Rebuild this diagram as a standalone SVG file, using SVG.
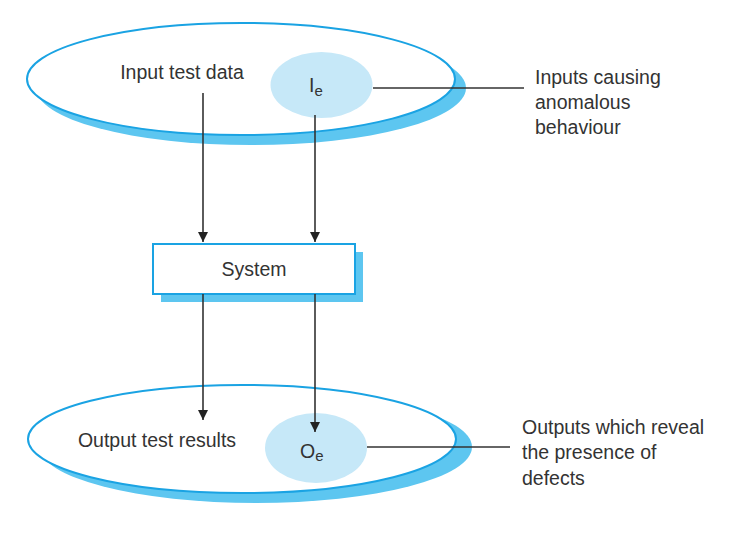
<svg xmlns="http://www.w3.org/2000/svg" width="739" height="539" viewBox="0 0 739 539">
<style>
.shadow{fill:#5dc6f0;stroke:none}
.outer{fill:#fff;stroke:#1aa3e3;stroke-width:2}
.inner{fill:#c6e8f8;stroke:none}
.t{font-family:"Liberation Sans",Arial,sans-serif;font-size:19.5px;fill:#333}
.sub{font-size:15px}
.ln{stroke:#333;stroke-width:1.6;fill:none}
</style>
<defs>
<marker id="ah" viewBox="0 0 10 12" refX="10" refY="6" markerWidth="10" markerHeight="12" markerUnits="userSpaceOnUse" orient="auto">
<path d="M0,1 L10,6 L0,11 Z" fill="#222"/>
</marker>
</defs>
<rect width="739" height="539" fill="#fff"/>
<g id="input-set">
<ellipse class="shadow" cx="251" cy="88" rx="215" ry="57"/>
<ellipse class="outer" cx="241" cy="79" rx="214" ry="56"/>
<text class="t" x="182" y="79" text-anchor="middle">Input test data</text>
</g>
<g id="ie">
<ellipse class="inner" cx="321.5" cy="85" rx="51" ry="33"/>
<text class="t" x="309" y="92">I<tspan class="sub" dy="4">e</tspan></text>
</g>
<g id="system">
<rect class="shadow" x="161" y="252" width="202" height="50"/>
<rect class="outer" x="153" y="244" width="202" height="50"/>
<text class="t" x="254" y="276" text-anchor="middle">System</text>
</g>
<g id="output-set">
<ellipse class="shadow" cx="256" cy="447" rx="216" ry="56"/>
<ellipse class="outer" cx="242" cy="439" rx="214" ry="54"/>
<text class="t" x="157" y="447" text-anchor="middle">Output test results</text>
</g>
<g id="oe">
<ellipse class="inner" cx="316" cy="448" rx="51" ry="35"/>
<text class="t" x="300" y="458">O<tspan class="sub" dy="3">e</tspan></text>
</g>
<g id="label-inputs">
<text class="t"><tspan x="535" y="84">Inputs causing</tspan><tspan x="535" y="109">anomalous</tspan><tspan x="535" y="134">behaviour</tspan></text>
</g>
<g id="label-outputs">
<text class="t"><tspan x="522" y="434">Outputs which reveal</tspan><tspan x="522" y="459">the presence of</tspan><tspan x="522" y="485">defects</tspan></text>
</g>
<g id="connectors">
<line class="ln" x1="203" y1="93" x2="203" y2="242" marker-end="url(#ah)"/>
<line class="ln" x1="315" y1="115" x2="315" y2="242" marker-end="url(#ah)"/>
<line class="ln" x1="203" y1="294" x2="203" y2="420" marker-end="url(#ah)"/>
<line class="ln" x1="315" y1="294" x2="315" y2="432" marker-end="url(#ah)"/>
<line class="ln" x1="373" y1="88" x2="524" y2="88"/>
<line class="ln" x1="367" y1="447" x2="510" y2="447"/>
</g>
</svg>
